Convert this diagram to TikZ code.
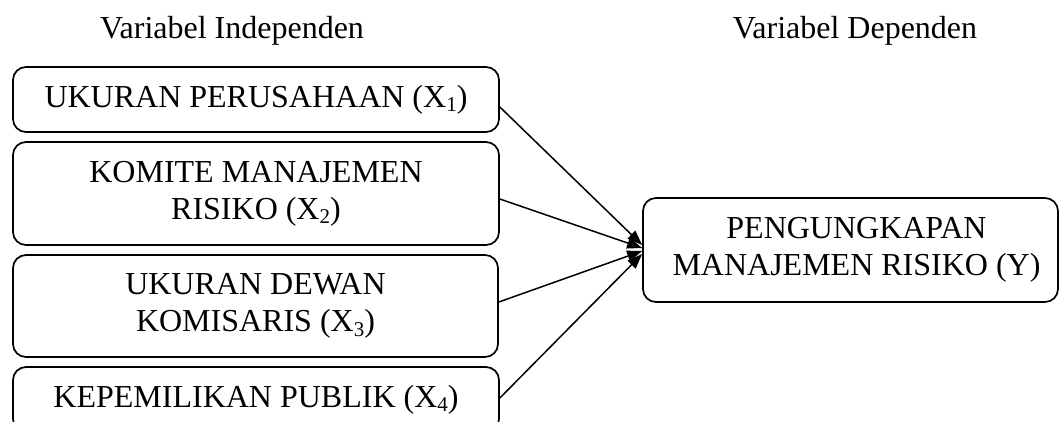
\documentclass[tikz,border=0pt]{standalone}
\usepackage{fontspec}
\setmainfont{Liberation Serif}
\usetikzlibrary{arrows.meta}
\newcommand{\vsub}[1]{\raisebox{-0.14em}{\fontsize{21}{21}\selectfont #1}}
\tikzset{
  varbox/.style={draw, line width=1.7pt, rounded corners=13pt, inner sep=0pt,
    align=center, font=\fontsize{32}{37}\selectfont},
  title/.style={anchor=base, inner sep=0pt, font=\fontsize{32}{37}\selectfont},
  conn/.style={line width=1.5pt, -{Triangle[length=15pt,width=11pt]}}
}
\begin{document}
\begin{tikzpicture}[x=1pt,y=-1pt]
\clip (0,0) rectangle (1059,421);
\node[title] (ti) at (232,38) {Variabel Independen};
\node[title] (td) at (855,38) {Variabel Dependen};
\node[varbox, minimum width=486pt, minimum height=65pt] (b1) at (256,99.5)
  {UKURAN PERUSAHAAN (X\vsub{1})};
\node[varbox, minimum width=486pt, minimum height=103pt] (b2) at (256,193.5)
  {KOMITE MANAJEMEN\\RISIKO (X\vsub{2})};
\node[varbox, minimum width=485pt, minimum height=102pt] (b3) at (255.5,306)
  {UKURAN DEWAN\\KOMISARIS (X\vsub{3})};
\node[varbox, minimum width=486pt, minimum height=65pt] (b4) at (256,399.5)
  {KEPEMILIKAN PUBLIK (X\vsub{4})};
\node[varbox, minimum width=415pt, minimum height=104pt] (y) at (850.5,250)
  {\hspace*{12pt}PENGUNGKAPAN\\\hspace*{12pt}MANAJEMEN RISIKO (Y)};
\draw[conn] ([yshift=-7.5pt]b1.east) -- ([yshift=5pt]y.west);
\draw[conn] ([yshift=-5.5pt]b2.east) -- ([yshift=2pt]y.west);
\draw[conn] ([yshift=4pt]b3.east) -- ([yshift=-1pt]y.west);
\draw[conn] ([yshift=1.5pt]b4.east) -- ([yshift=-4pt]y.west);
\end{tikzpicture}
\end{document}
